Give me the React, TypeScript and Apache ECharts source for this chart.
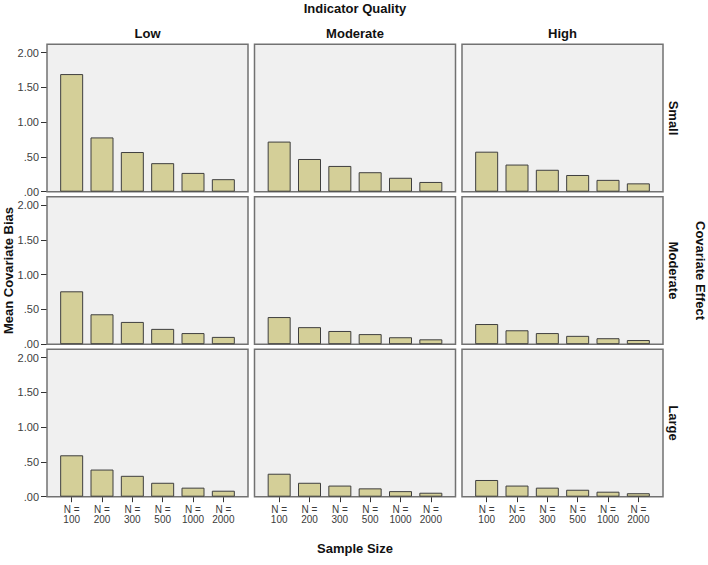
import React, { useEffect, useRef } from "react";
import * as echarts from "echarts";

const sampleSizes = ["100", "200", "300", "500", "1000", "2000"];
const qualityLevels = ["Low", "Moderate", "High"];
const effectLevels = ["Small", "Moderate", "Large"];
const yTicks = [0, 0.5, 1, 1.5, 2];

// rows: covariate effect (Small, Moderate, Large); cols: indicator quality (Low, Moderate, High)
const smallLow = [1.69, 0.78, 0.57, 0.41, 0.27, 0.18];
const smallModerate = [0.72, 0.47, 0.37, 0.28, 0.2, 0.14];
const smallHigh = [0.575, 0.39, 0.315, 0.24, 0.17, 0.12];
const moderateLow = [0.76, 0.43, 0.32, 0.22, 0.16, 0.105];
const moderateModerate = [0.39, 0.245, 0.19, 0.145, 0.1, 0.07];
const moderateHigh = [0.29, 0.2, 0.16, 0.12, 0.086, 0.06];
const largeLow = [0.595, 0.39, 0.3, 0.2, 0.13, 0.086];
const largeModerate = [0.33, 0.2, 0.16, 0.12, 0.08, 0.057];
const largeHigh = [0.24, 0.16, 0.13, 0.1, 0.072, 0.05];

const panelData = [
  [smallLow, smallModerate, smallHigh],
  [moderateLow, moderateModerate, moderateHigh],
  [largeLow, largeModerate, largeHigh],
];

const FONT = "'Liberation Sans', Arial, sans-serif";

export default function App() {
  const ref = useRef<HTMLDivElement>(null);

  useEffect(() => {
    if (!ref.current) return;
    const chart = echarts.init(ref.current, null, { renderer: "svg" });

    const frameLeft0 = 47;
    const frameTop0 = 44.3;
    const colStep = 207.5;
    const rowStep = 152.5;
    const frameW = 201;
    const frameH = 147.4;
    const pad = 9.5;
    const plotH = 139.2; // height of 0..2.0

    const grids: any[] = [];
    const xAxes: any[] = [];
    const yAxes: any[] = [];
    const series: any[] = [];
    const graphics: any[] = [];

    let idx = 0;
    for (let r = 0; r < 3; r++) {
      for (let c = 0; c < 3; c++) {
        const fl = frameLeft0 + c * colStep;
        const ft = frameTop0 + r * rowStep;
        const fb = ft + frameH;
        graphics.push({
          type: "rect",
          z: 1,
          shape: { x: fl, y: ft, width: frameW, height: frameH },
          style: { fill: "#f0f0f0", stroke: "#727272", lineWidth: 1.5 },
        });
        grids.push({
          left: fl + pad,
          top: fb - plotH,
          width: frameW - 2 * pad,
          height: plotH,
          containLabel: false,
        });
        const bottomRow = r === 2;
        xAxes.push({
          type: "category",
          gridIndex: idx,
          data: sampleSizes,
          axisLine: { show: false },
          axisTick: {
            show: bottomRow,
            alignWithLabel: true,
            length: 5.5,
            lineStyle: { color: "#333", width: 1 },
          },
          axisLabel: {
            show: bottomRow,
            interval: 0,
            margin: 8,
            fontFamily: FONT,
            fontSize: 10,
            lineHeight: 10,
            color: "#3a3a3a",
            formatter: (v: string) => "N =\n" + v,
          },
          splitLine: { show: false },
        });
        yAxes.push({
          type: "value",
          gridIndex: idx,
          min: 0,
          max: 2,
          interval: 0.5,
          show: c === 0,
          offset: pad,
          axisLine: { show: false },
          axisTick: { show: true, length: 6, lineStyle: { color: "#333" } },
          axisLabel: {
            margin: 8,
            fontFamily: FONT,
            fontSize: 11,
            color: "#404040",
            formatter: (v: number) => v.toFixed(2).replace(/^0/, ""),
          },
          splitLine: { show: false },
        });
        series.push({
          type: "bar",
          xAxisIndex: idx,
          yAxisIndex: idx,
          data: panelData[r][c],
          barWidth: 23,
          z: 5,
          itemStyle: { color: "#d4cf98", borderColor: "#3f3f3f", borderWidth: 1 },
        });
        idx++;
      }
    }

    const textStyle = (text: string, size: number) => ({
      text,
      fontFamily: FONT,
      fontSize: size,
      fontWeight: "bold",
      fill: "#111",
      textAlign: "center",
      textVerticalAlign: "middle",
    });

    const panelsCenterX = frameLeft0 + (2 * colStep + frameW) / 2;
    graphics.push({ type: "text", z: 10, x: panelsCenterX, y: 8, style: textStyle("Indicator Quality", 13) });
    qualityLevels.forEach((q, c) => {
      graphics.push({
        type: "text",
        z: 10,
        x: frameLeft0 + c * colStep + frameW / 2,
        y: 33,
        style: textStyle(q, 13),
      });
    });
    effectLevels.forEach((e, r) => {
      graphics.push({
        type: "text",
        z: 10,
        x: 673,
        y: frameTop0 + r * rowStep + frameH / 2,
        rotation: -Math.PI / 2,
        style: textStyle(e, 13),
      });
    });
    const panelsCenterY = frameTop0 + (2 * rowStep + frameH) / 2;
    graphics.push({
      type: "text",
      z: 10,
      x: 700,
      y: panelsCenterY,
      rotation: -Math.PI / 2,
      style: textStyle("Covariate Effect", 13),
    });
    graphics.push({
      type: "text",
      z: 10,
      x: 8,
      y: panelsCenterY,
      rotation: Math.PI / 2,
      style: textStyle("Mean Covariate Bias", 13),
    });
    graphics.push({ type: "text", z: 10, x: panelsCenterX, y: 548, style: textStyle("Sample Size", 13) });

    chart.setOption({
      animation: false,
      backgroundColor: "#ffffff",
      grid: grids,
      xAxis: xAxes,
      yAxis: yAxes,
      series,
      graphic: { elements: graphics },
    });

    return () => chart.dispose();
  }, []);

  return (
    <div
      ref={ref}
      style={{ position: "fixed", left: 0, top: 0, width: 708, height: 565 }}
    />
  );
}
